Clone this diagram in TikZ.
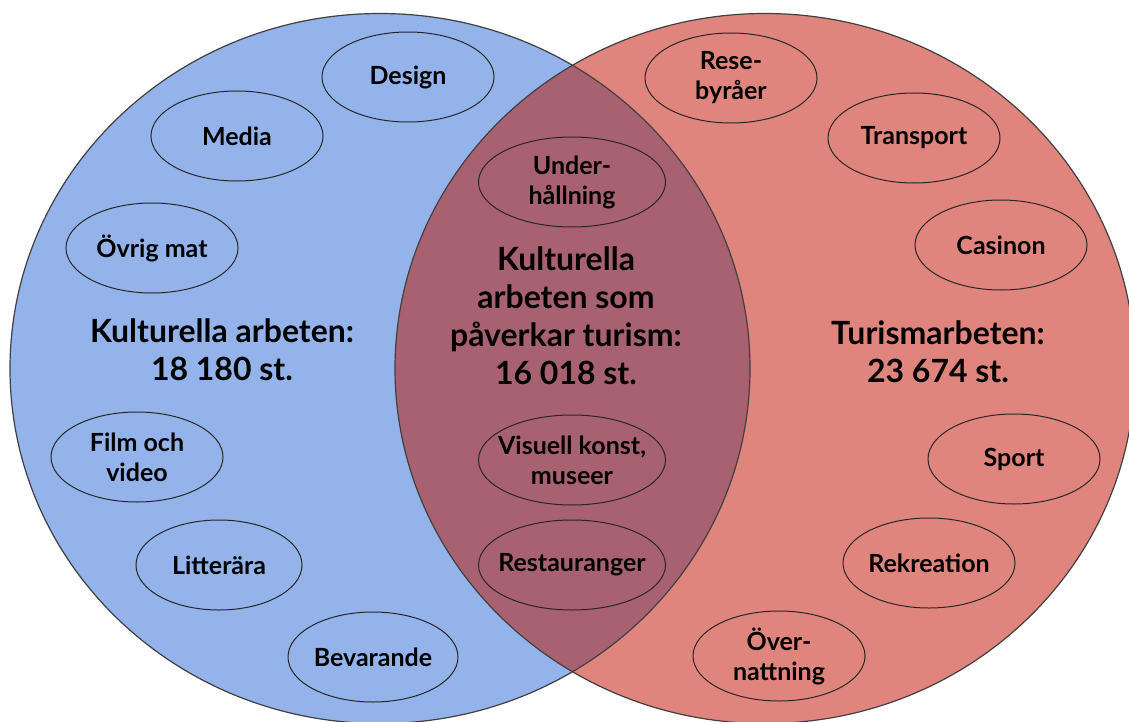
\documentclass[tikz,border=0pt]{standalone}
\usepackage{fontspec}
\setmainfont{Lato}
\usetikzlibrary{shapes.geometric}
\definecolor{kblue}{RGB}{147,179,234}
\definecolor{tred}{RGB}{224,133,125}
\definecolor{both}{RGB}{168,97,113}

\begin{document}
\begin{tikzpicture}[x=0.5pt,y=-0.5pt,
  oval/.style={ellipse, draw=black!85, line width=0.5pt, minimum height=45pt, inner sep=0pt},
  lbl/.style={align=center, font=\bfseries\fontsize{12.5}{15}\selectfont, inner sep=0pt},
  big/.style={align=center, font=\bfseries\fontsize{16}{19}\selectfont, inner sep=0pt}]
\useasboundingbox (0,0) rectangle (1129,722);
% the two sets
\fill[kblue] (380,368.5) ellipse [x radius=370, y radius=355];
\fill[tred] (765,368.5) ellipse [x radius=370, y radius=355];
\begin{scope}
\clip (380,368.5) ellipse [x radius=370, y radius=355];
\fill[both] (765,368.5) ellipse [x radius=370, y radius=355];
\end{scope}
\draw[black!75, line width=0.6pt] (380,368.5) ellipse [x radius=370, y radius=355];
\draw[black!75, line width=0.6pt] (765,368.5) ellipse [x radius=370, y radius=355];
% small ovals
\foreach \n/\x/\y/\w/\t in {design/408/77/172/Design, media/237/136/172/Media,
  ovrig/152/248/172/{Övrig mat}, film/137/457/172/{Film och\\video},
  litt/219/565/166/Litterära, bev/373/657/170/Bevarande,
  under/572/182/187/{Under-\\hållning}, visuell/572/460/187/{Visuell konst,\\museer},
  rest/572/565/187/Restauranger,
  rese/731/78/172/{Rese-\\byråer}, transp/914/138/172/Transport,
  casino/1001/245/172/Casinon, sport/1014/459/172/Sport,
  rekr/929/563/172/Rekreation, over/779/656/172/{Över-\\nattning}}{
  \node[oval, minimum width=\w*0.5pt] (o-\n) at (\x,\y) {};
  \node[lbl] (t-\n) at (o-\n) {\t};
}
% counts
\node[big] (kult) at (222,350) {Kulturella arbeten:\\18 180 st.};
\node[big] (mitt) at (566,316) {Kulturella\\arbeten som\\påverkar turism:\\16 018 st.};
\node[big] (tur) at (938,352) {Turismarbeten:\\23 674 st.};
\end{tikzpicture}
\end{document}
